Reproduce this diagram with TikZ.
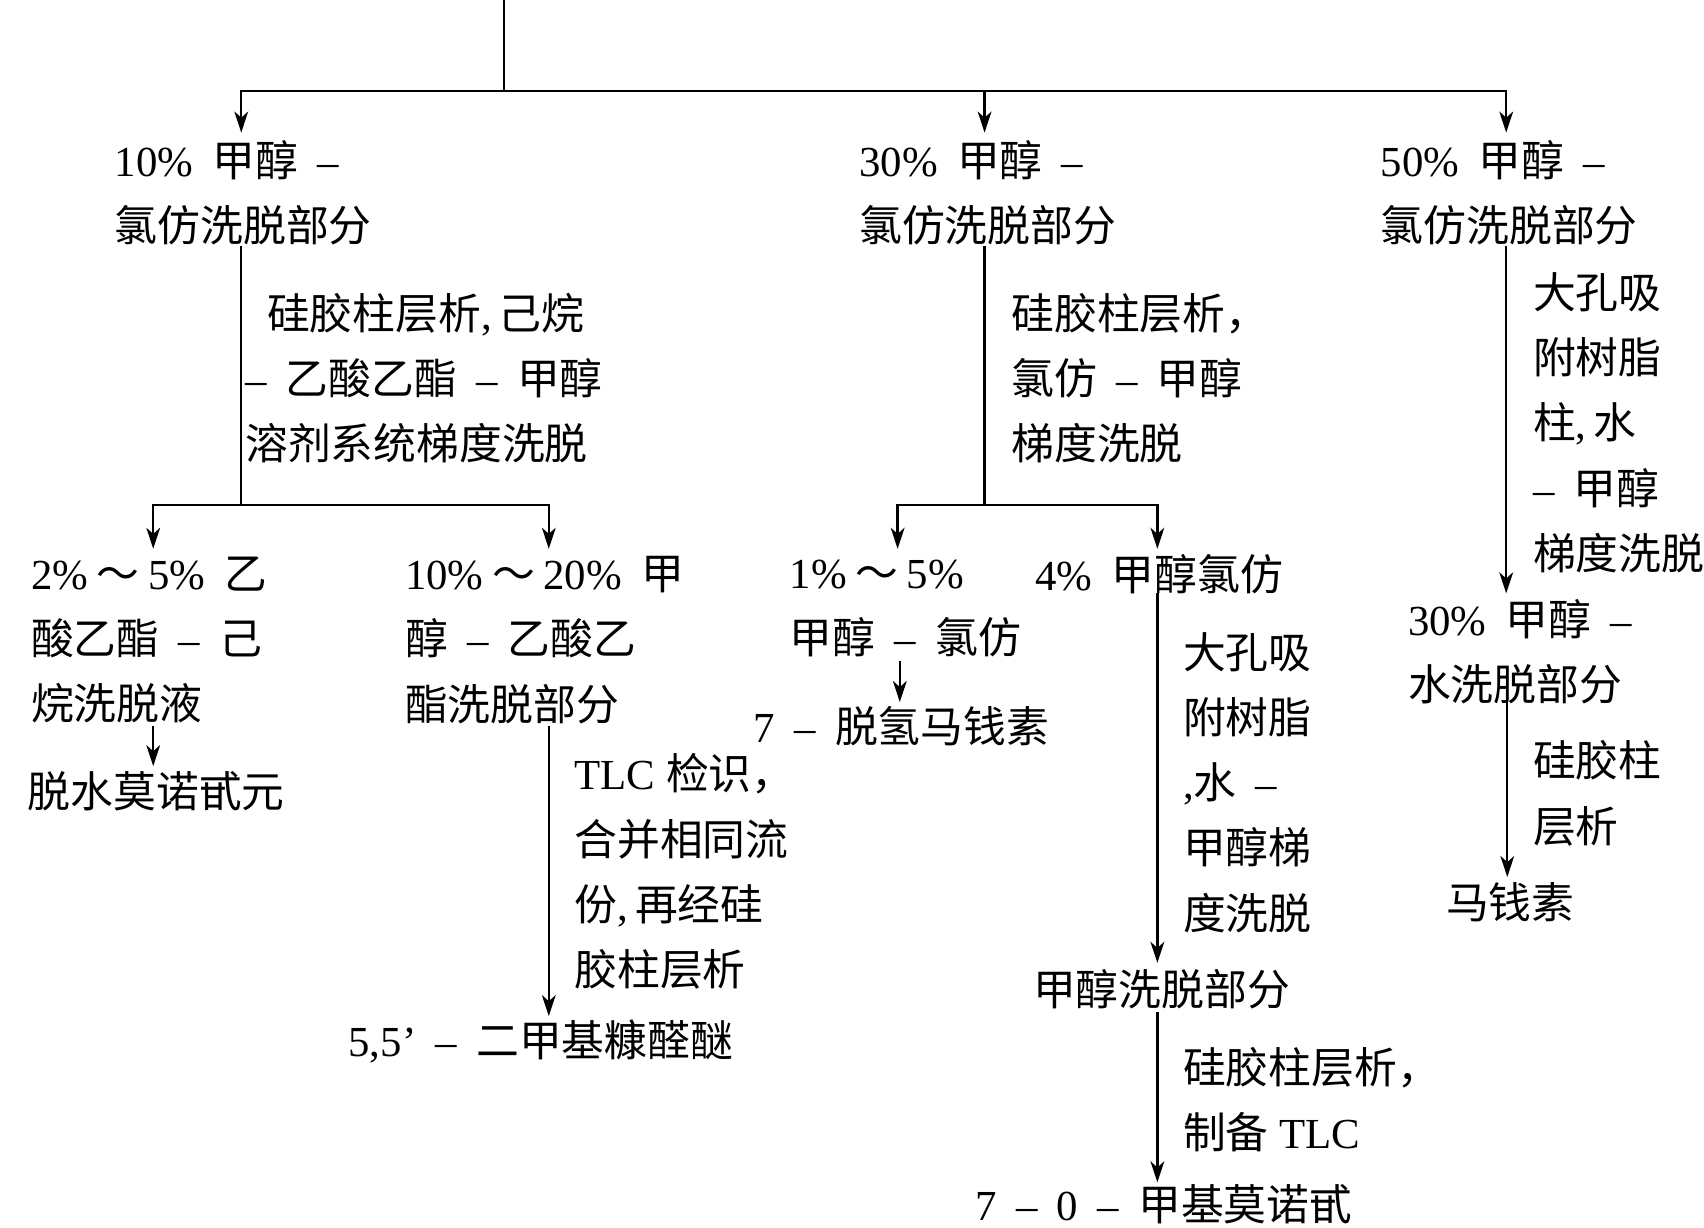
\documentclass[tikz,border=0pt]{standalone}
\usepackage{fontspec}
\setmainfont{Liberation Serif}
\newfontfamily\cjk{Noto Sans CJK SC}
\usetikzlibrary{arrows.meta}
\newcommand\zh[1]{{\cjk #1}}
\newcommand\gap{\hspace{0.45em}}
\newcommand\dd{\gap–\gap}
\newcommand\tl{\hspace{0.2em}\zh{～}\hspace{0.2em}}
\begin{document}
\begin{tikzpicture}[x=0.01cm,y=-0.01cm,
  txt/.style={anchor=west,inner sep=0pt,align=left,font=\fontsize{11.2}{17.07}\selectfont},
  ln/.style={line width=0.6pt},
  arr/.style={ln,-{Stealth[length=5.5pt,width=3.6pt,inset=1.6pt]}}]
\useasboundingbox (0,0) rectangle (1568,1130);

% ---------- level 1 texts
\node[txt] (A1) at (105,177) {10\%\gap\zh{甲醇}\dd\\\zh{氯仿洗脱部分}};
\node[txt] (A2) at (790,177) {30\%\gap\zh{甲醇}\dd\\\zh{氯仿洗脱部分}};
\node[txt] (A3) at (1270,177) {50\%\gap\zh{甲醇}\dd\\\zh{氯仿洗脱部分}};

% ---------- process labels
\node[txt] (L1) at (225,348) {\hspace*{0.2cm}\zh{硅胶柱层析},\,\zh{己烷}\\–\gap\zh{乙酸乙酯}\dd\zh{甲醇}\\\zh{溶剂系统梯度洗脱}};
\node[txt] (L2) at (930,348) {\zh{硅胶柱层析，}\\\zh{氯仿}\dd\zh{甲醇}\\\zh{梯度洗脱}};
\node[txt] (L3) at (1410,389) {\zh{大孔吸}\\\zh{附树脂}\\\zh{柱},\,\zh{水}\\–\gap\zh{甲醇}\\\zh{梯度洗脱}};

% ---------- level 2 texts
\node[txt] (B1) at (28,589) {2\%\tl5\%\gap\zh{乙}\\\zh{酸乙酯}\dd\zh{己}\\\zh{烷洗脱液}};
\node[txt] (R1) at (25,728) {\zh{脱水莫诺甙元}};
\node[txt] (B2) at (372,589) {10\%\tl20\%\gap\zh{甲}\\\zh{醇}\dd\zh{乙酸乙}\\\zh{酯洗脱部分}};
\node[txt] (L4) at (528,802) {TLC \zh{检识，}\\\zh{合并相同流}\\\zh{份},\,\zh{再经硅}\\\zh{胶柱层析}};
\node[txt] (R2) at (320,958) {5,5’\dd\zh{二甲基糠醛醚}};
\node[txt] (B3) at (726,560) {1\%\tl5\%\\\zh{甲醇}\dd\zh{氯仿}};
\node[txt] (R3) at (693,668) {7\dd\zh{脱氢马钱素}};
\node[txt] (B4) at (952,528) {4\%\gap\zh{甲醇氯仿}};
\node[txt] (L5) at (1088,720) {\zh{大孔吸}\\\zh{附树脂}\\,\zh{水}\dd\\\zh{甲醇梯}\\\zh{度洗脱}};
\node[txt] (B6) at (950,910) {\zh{甲醇洗脱部分}};
\node[txt] (L6) at (1088,1012) {\zh{硅胶柱层析，}\\\zh{制备} TLC};
\node[txt] (R4) at (897,1108) {7\dd0\dd\zh{甲基莫诺甙}};
\node[txt] (B5) at (1295,600) {30\%\gap\zh{甲醇}\dd\\\zh{水洗脱部分}};
\node[txt] (L7) at (1410,730) {\zh{硅胶柱}\\\zh{层析}};
\node[txt] (R5) at (1330,830) {\zh{马钱素}};

% ---------- connector points
\coordinate (top) at (464,0);
\coordinate (j0) at (464,84);
\coordinate (t1) at (222,122);
\coordinate (t2) at (906,122);
\coordinate (t3) at (1386,122);

\coordinate (s1) at (222,226);
\coordinate (j1) at (222,465);
\coordinate (t11) at (141,505);
\coordinate (t12) at (505,505);

\coordinate (s2) at (906,226);
\coordinate (j2) at (906,465);
\coordinate (t21) at (826,505);
\coordinate (t22) at (1065,505);

\coordinate (s3) at (1386,226);
\coordinate (t31) at (1386,546);

\coordinate (s4) at (141,668);
\coordinate (t4) at (141,705);
\coordinate (s5) at (505,668);
\coordinate (t5) at (505,935);
\coordinate (s6) at (828,608);
\coordinate (t6) at (828,646);
\coordinate (s7) at (1065,546);
\coordinate (t7) at (1065,886);
\coordinate (s8) at (1065,931);
\coordinate (t8) at (1065,1088);
\coordinate (s9) at (1387,646);
\coordinate (t9) at (1387,807);

% ---------- connectors
\draw[ln] (top) -- (j0);
\draw[arr] (j0) -| (t1);
\draw[arr] (j0) -| (t3);
\draw[arr] (t2 |- j0) -- (t2);

\draw[ln] (s1) -- (j1);
\draw[arr] (j1) -| (t11);
\draw[arr] (j1) -| (t12);

\draw[ln] (s2) -- (j2);
\draw[arr] (j2) -| (t21);
\draw[arr] (j2) -| (t22);

\draw[arr] (s3) -- (t31);
\draw[arr] (s4) -- (t4);
\draw[arr] (s5) -- (t5);
\draw[arr] (s6) -- (t6);
\draw[arr] (s7) -- (t7);
\draw[arr] (s8) -- (t8);
\draw[arr] (s9) -- (t9);
\end{tikzpicture}
\end{document}
